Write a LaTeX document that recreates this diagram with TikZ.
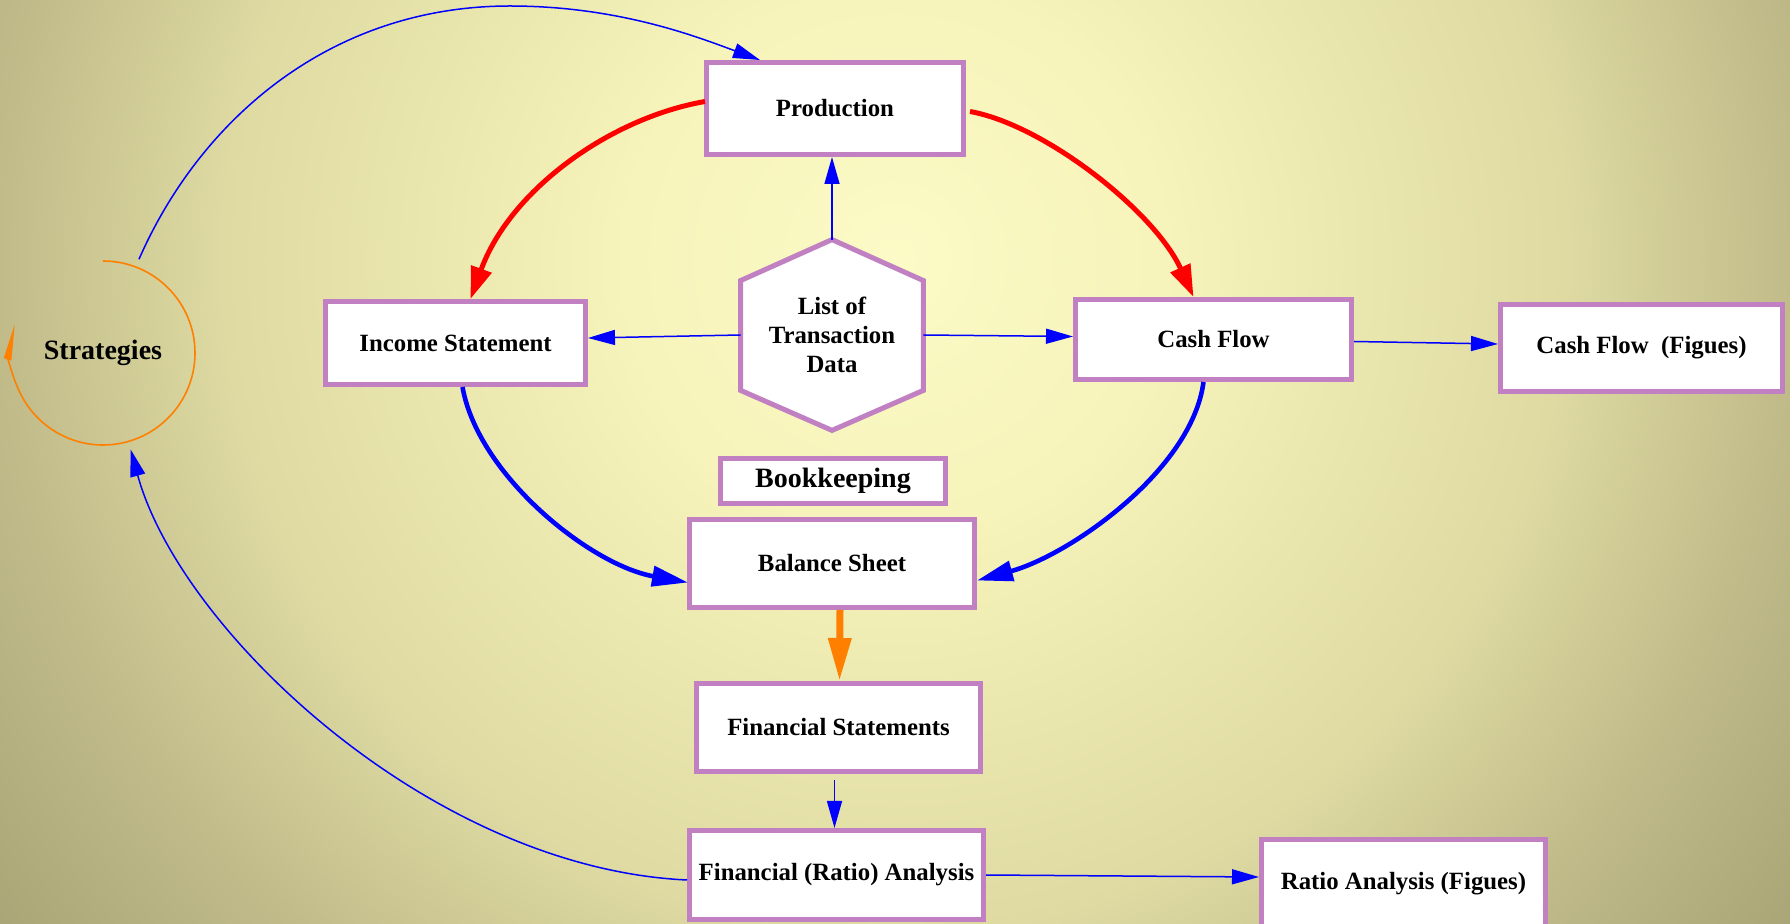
\documentclass[tikz,border=0pt]{standalone}
\usepackage{fontspec}
\setmainfont{Liberation Serif}
\usetikzlibrary{arrows.meta,calc}

\definecolor{boxpurple}{RGB}{193,128,193}
\definecolor{flowblue}{RGB}{0,0,255}
\definecolor{flowred}{RGB}{255,0,0}
\definecolor{flowor}{RGB}{255,128,0}
\definecolor{bgA}{RGB}{252,250,198}
\definecolor{bgB}{RGB}{246,244,186}
\definecolor{bgC}{RGB}{222,218,162}
\definecolor{bgD}{RGB}{192,187,137}
\definecolor{bgE}{RGB}{170,165,118}

% the middle 50bp of a shading is fitted to the shaded path,
% so the stops run from the centre out to 25bp
\pgfdeclareradialshading{backdrop}{\pgfpoint{0bp}{0bp}}{%
  color(0bp)=(bgA); color(6bp)=(bgB); color(15bp)=(bgC);
  color(20bp)=(bgD); color(25bp)=(bgE); color(50bp)=(bgE)}

\tikzset{
  box/.style={draw=boxpurple, line width=2.5pt, fill=white, inner sep=0pt,
    align=center, font=\bfseries\fontsize{12.4}{13.6}\selectfont},
  bigtext/.style={font=\bfseries\fontsize{14}{16}\selectfont},
  thinflow/.style={draw=flowblue, line width=0.75pt,
    -{Triangle[length=13.5pt,width=7.5pt]}},
  redflow/.style={draw=flowred, line width=2.5pt,
    -{Triangle[length=16pt,width=10.5pt]}},
  blueflow/.style={draw=flowblue, line width=2.3pt,
    -{Triangle[length=18pt,width=10pt]}},
  orflow/.style={draw=flowor, line width=3.5pt,
    -{Triangle[length=21.5pt,width=11pt]}},
  loopflow/.style={draw=flowor, line width=0.8pt,
    -{Triangle[length=16pt,width=7pt,right]}},
  hexline/.style={draw=boxpurple, line width=2.5pt, fill=white}
}

\begin{document}
\begin{tikzpicture}[x=0.5pt, y=-0.5pt]
  \useasboundingbox (0,0) rectangle (1790,924);

  % backdrop
  \begin{scope}
    \clip (0,0) rectangle (1790,924);
    \shade[shading=backdrop] (-225,-860) rectangle (2015,1380);
  \end{scope}

  % nodes
  \node[circle, minimum size=100pt, inner sep=0pt, bigtext] (strat) at (103,353) {Strategies};
  \node[box, minimum width=128.5pt, minimum height=46pt] (prod) at (835,108.5) {Production};
  \node[box, minimum width=130pt, minimum height=41.5pt] (IS) at (455.5,343) {Income Statement};
  \node[box, minimum width=138pt, minimum height=40pt] (CF) at (1213.5,339.5) {Cash Flow};
  \node[box, minimum width=141pt, minimum height=43.5pt] (CFF) at (1641.5,348) {Cash Flow\ \ (Figues)};
  \node[box, bigtext, minimum width=112.5pt, minimum height=22.5pt] (BK) at (833,481) {Bookkeeping};
  \node[box, minimum width=142.5pt, minimum height=44pt] (BS) at (832,563.5) {Balance Sheet};
  \node[box, minimum width=142pt, minimum height=44pt] (FS) at (838.5,727.5) {Financial Statements};
  \node[box, minimum width=147pt, minimum height=44.5pt] (FRA) at (836.5,875) {Financial (Ratio) Analysis};
  \node[box, minimum width=142pt, minimum height=44.5pt] (RA) at (1403.5,884) {Ratio Analysis (Figues)};

  % hexagon holding the transaction data
  \node[minimum width=91pt, minimum height=95pt, inner sep=0pt] (hexbox) at (832,335) {};
  \draw[hexline] (hexbox.north) -- ($(hexbox.north west)+(0,41)$) -- ($(hexbox.south west)+(0,-40)$)
    -- (hexbox.south) -- ($(hexbox.south east)+(0,-40)$) -- ($(hexbox.north east)+(0,41)$) -- cycle;
  \node[align=center, font=\bfseries\fontsize{12.4}{14.6}\selectfont] (hexlabel) at (hexbox.center) {List of\\Transaction\\Data};

  % loop around the strategies
  \draw[loopflow] ([shift={(90:46pt)}]strat.center) arc[start angle=90, end angle=-198, radius=46pt];

  % main cycle
  \draw[redflow] ($(prod.west)+(1,-7)$) .. controls (610,118) and (510,190) .. ($(IS.north)+(15,0)$);
  \draw[redflow] ($(prod.east)+(4,3)$) .. controls (1045,125) and (1155,212) .. ($(CF.north)+(-20,0)$);
  \draw[blueflow] ($(IS.south)+(7,0)$) .. controls (478,475) and (590,565) .. ($(BS.west)+(1,19)$);
  \draw[blueflow] ($(CF.south)+(-10,0)$) .. controls (1192,470) and (1070,555) .. ($(BS.east)+(0,17)$);
  \draw[orflow] ($(BS.south)+(8,0)$) -- ($(FS.north)+(1,0)$);

  % feedback arcs
  \draw[thinflow] (strat.69) .. controls (200,120) and (330,6) .. (510,6)
    .. controls (620,6) and (700,38) .. ($(prod.north west)+(56,0)$);
  \draw[thinflow] ($(FRA.west)+(0,5)$) .. controls (430,868) and (180,630) .. (strat.-74);

  % straight links
  \draw[thinflow] (hexbox.north) -- (hexbox.north |- prod.south);
  \draw[thinflow] (hexbox.west) -- ($(IS.east)+(0,-5)$);
  \draw[thinflow] (hexbox.east) -- ($(CF.west)+(0,-3)$);
  \draw[thinflow] ($(CF.east)+(0,2)$) -- ($(CFF.west)+(0,-4)$);
  \draw[thinflow] ($(FS.south)+(-4,6)$) -- ($(FRA.north)+(-2,0)$);
  \draw[thinflow] (FRA.east) -- ($(RA.west)+(0,-7)$);
\end{tikzpicture}
\end{document}
